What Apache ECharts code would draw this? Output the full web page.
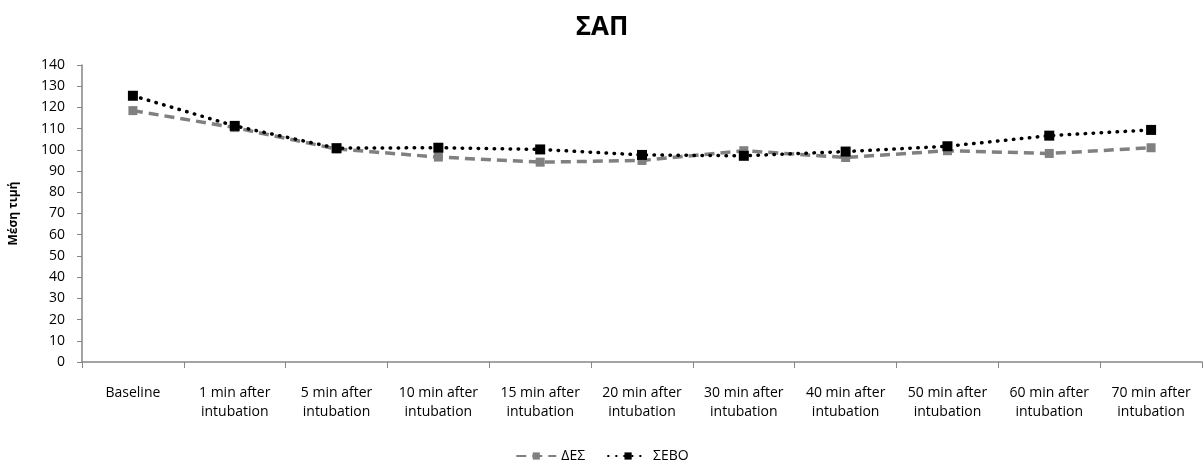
<!DOCTYPE html>
<html>
<head>
<meta charset="utf-8">
<script src="https://cdn.jsdelivr.net/npm/echarts@6/dist/echarts.min.js"></script>
<style>
  html, body { margin: 0; padding: 0; background: #ffffff; }
  #chart { width: 1204px; height: 464px; }
</style>
</head>
<body>
<div id="chart"></div>
<script>
// Time points of measurement
const categories = [
  'Baseline',
  '1 min after\nintubation',
  '5 min after\nintubation',
  '10 min after\nintubation',
  '15 min after\nintubation',
  '20 min after\nintubation',
  '30 min after\nintubation',
  '40 min after\nintubation',
  '50 min after\nintubation',
  '60 min after\nintubation',
  '70 min after\nintubation'
];

// Mean systolic pressure per group
const desValues  = [118.5, 110.5, 100.4, 96.6, 94.2, 95.0, 99.6, 96.4, 99.6, 98.3, 101.0];
const seboValues = [125.5, 111.3, 100.8, 101.0, 100.2, 97.6, 97.2, 99.2, 101.7, 106.7, 109.4];

const seriesNames = ['ΔΕΣ', 'ΣΕΒΟ'];
const titleText = 'ΣΑΠ';
const yAxisName = 'Μέση τιμή';

const font = '"Open Sans", "DejaVu Sans", sans-serif';

const chart = echarts.init(document.getElementById('chart'));
chart.setOption({
  animation: false,
  backgroundColor: '#ffffff',
  title: {
    text: titleText,
    left: 'center',
    top: 10,
    textStyle: { fontFamily: font, fontSize: 26, fontWeight: 'bold', color: '#000000' }
  },
  legend: {
    bottom: -4,
    left: 'center',
    itemWidth: 40,
    itemHeight: 9,
    itemGap: 22,
    textStyle: { fontFamily: font, fontSize: 14, color: '#000000' },
    data: seriesNames
  },
  grid: { left: 82, right: 2, top: 65, bottom: 102, containLabel: false },
  xAxis: {
    type: 'category',
    data: categories,
    boundaryGap: true,
    axisLine: { lineStyle: { color: '#868686', width: 1.5 } },
    axisTick: { show: true, alignWithLabel: false, length: 6, lineStyle: { color: '#868686' } },
    axisLabel: {
      interval: 0,
      margin: 22,
      fontFamily: font,
      fontSize: 14,
      lineHeight: 19,
      color: '#000000'
    }
  },
  yAxis: {
    type: 'value',
    min: 0,
    max: 140,
    interval: 10,
    name: yAxisName,
    nameLocation: 'middle',
    nameGap: 62,
    nameRotate: 90,
    nameTextStyle: { fontFamily: font, fontSize: 12, fontWeight: 'bold', color: '#000000' },
    axisLine: { show: true, lineStyle: { color: '#868686', width: 1.5 } },
    axisTick: { show: true, length: 5, lineStyle: { color: '#868686' } },
    splitLine: { show: false },
    axisLabel: { fontFamily: font, fontSize: 14, color: '#000000', margin: 17 }
  },
  series: [
    {
      name: seriesNames[0],
      type: 'line',
      data: desValues,
      symbol: 'rect',
      symbolSize: 9,
      itemStyle: { color: '#808080' },
      lineStyle: { color: '#808080', width: 3.5, type: [10, 6] },
      z: 2
    },
    {
      name: seriesNames[1],
      type: 'line',
      data: seboValues,
      symbol: 'rect',
      symbolSize: 10,
      itemStyle: { color: '#000000' },
      lineStyle: { color: '#000000', width: 3.5, type: [0.5, 7.5], cap: 'round' },
      z: 3
    }
  ]
});
</script>
</body>
</html>
